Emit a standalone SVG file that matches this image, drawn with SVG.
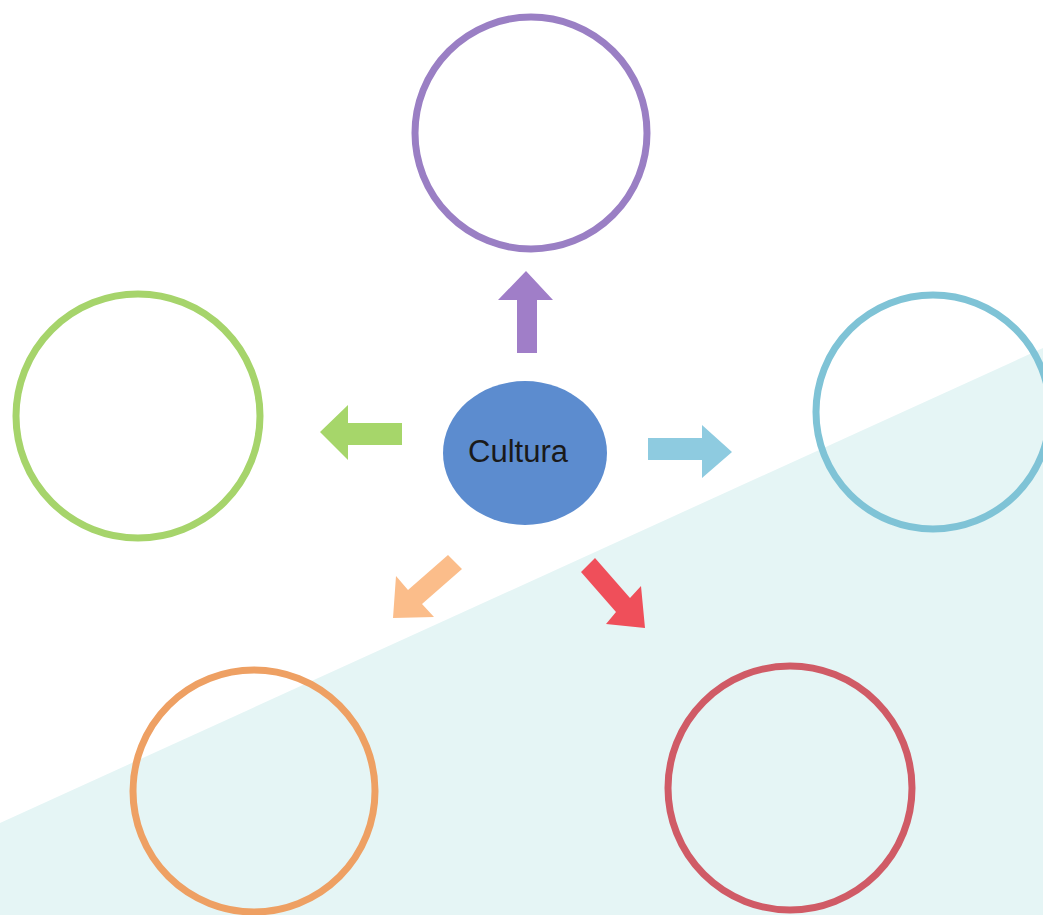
<svg xmlns="http://www.w3.org/2000/svg" width="1043" height="915" viewBox="0 0 1043 915">
<style>
.ring{fill:none;stroke-width:7}
.lbl{font-family:"Liberation Sans",Arial,sans-serif;font-size:31px;fill:#1a1a1a}
</style>
<rect width="1043" height="915" fill="#ffffff"/>
<polygon points="0,823 1043,348 1043,915 0,915" fill="#e5f5f5"/>
<g id="node-top"><circle class="ring" cx="531" cy="133" r="116" stroke="#9a7fc4"/></g>
<g id="node-left"><circle class="ring" cx="138" cy="416" r="122" stroke="#a6d46b"/></g>
<g id="node-right"><circle class="ring" cx="933" cy="412" r="117" stroke="#7fc3d6"/></g>
<g id="node-bottom-left"><circle class="ring" cx="254" cy="791" r="121" stroke="#eea063"/></g>
<g id="node-bottom-right"><circle class="ring" cx="790" cy="788" r="122" stroke="#d05b66"/></g>
<g id="node-center">
<ellipse cx="525" cy="453" rx="82" ry="72" fill="#5c8ccf"/>
<text class="lbl" x="518" y="462" text-anchor="middle">Cultura</text>
</g>
<g id="connectors">
<polygon points="517,353 517,300 498,300 526,271 553,300 537,300 537,353" fill="#a07ec8"/>
<polygon points="402,423 348,423 348,405 320,432 348,460 348,445 402,445" fill="#a6d66a"/>
<polygon points="648,438 702,438 702,425 732,452 702,478 702,460 648,460" fill="#8ecbe0"/>
<polygon points="448,555 408,590 396,576 393,618 434,617 422,604 462,569" fill="#fbbd8a"/>
<polygon points="595,558 630,598 641,586 645,628 606,624 616,612 581,572" fill="#ef4f5a"/>
</g>
</svg>
